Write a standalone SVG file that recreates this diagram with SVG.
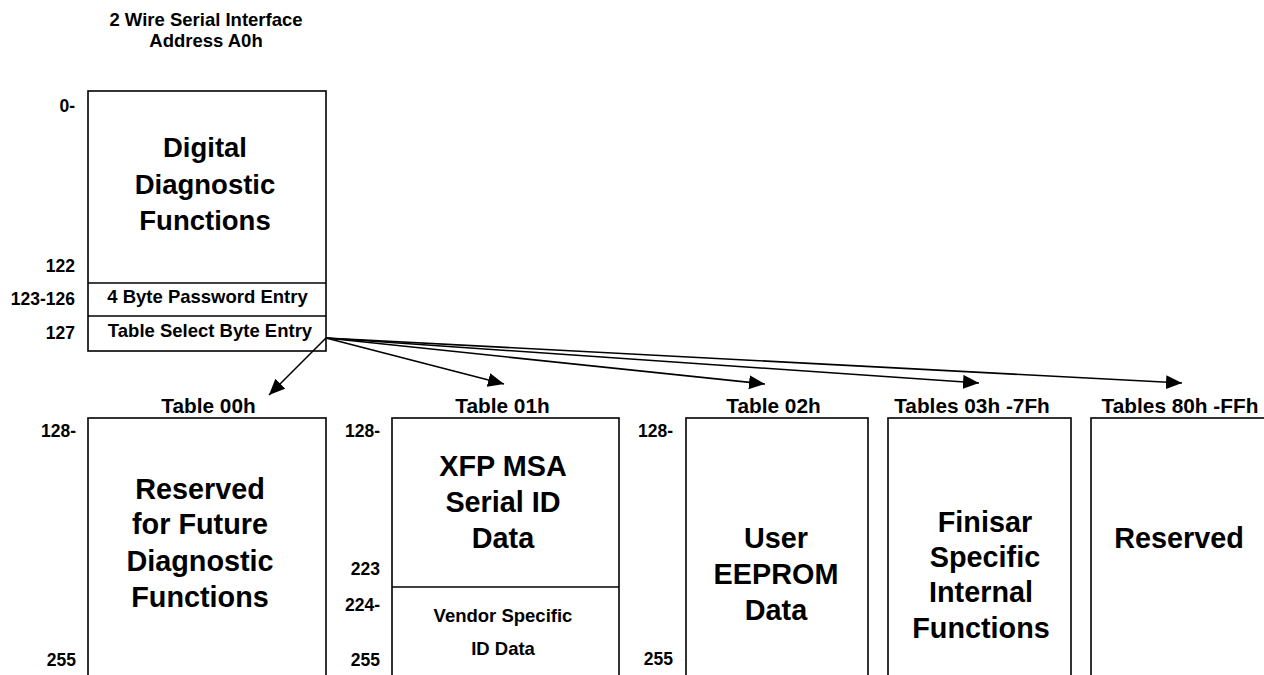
<svg xmlns="http://www.w3.org/2000/svg" width="1264" height="675" viewBox="0 0 1264 675">
<style>
text{font-family:"Liberation Sans",Arial,sans-serif;font-weight:bold;fill:#000}
.box{fill:#fff;stroke:#000;stroke-width:1.6}
.div{stroke:#000;stroke-width:1.6}
.t{font-size:18.5px;text-anchor:middle}
.n{font-size:17.5px;text-anchor:end}
.big{font-size:28.8px;text-anchor:middle}
.lbl{font-size:20.8px;text-anchor:middle}
.sm{font-size:18.5px;text-anchor:middle}
.arr{stroke:#000;stroke-width:1.6;fill:none;marker-end:url(#ah)}
</style>
<defs>
<marker id="ah" markerUnits="userSpaceOnUse" markerWidth="17" markerHeight="14" refX="16" refY="7" orient="auto">
<path d="M0,0 L16,7 L0,14 Z" fill="#000"/>
</marker>
</defs>
<rect width="1264" height="675" fill="#fff"/>
<g id="title">
<text class="t" x="206" y="26">2 Wire Serial Interface</text>
<text class="t" x="206" y="47">Address A0h</text>
</g>
<g id="a0-box">
<rect class="box" x="88" y="91" width="238" height="260"/>
<line class="div" x1="88" y1="283" x2="326" y2="283"/>
<line class="div" x1="88" y1="316" x2="326" y2="316"/>
<text class="big" x="205" y="157" style="font-size:27.5px">Digital</text>
<text class="big" x="205" y="194" style="font-size:27.5px">Diagnostic</text>
<text class="big" x="205" y="230" style="font-size:27.5px">Functions</text>
<text class="sm" x="207.5" y="303">4 Byte Password Entry</text>
<text class="sm" x="210" y="337">Table Select Byte Entry</text>
<text class="n" x="75" y="112">0-</text>
<text class="n" x="75" y="272">122</text>
<text class="n" x="75" y="305">123-126</text>
<text class="n" x="75" y="339">127</text>
</g>
<g id="connectors">
<line class="arr" x1="326" y1="338" x2="269" y2="395"/>
<line class="arr" x1="326" y1="338" x2="504" y2="384"/>
<line class="arr" x1="326" y1="338" x2="765" y2="384"/>
<line class="arr" x1="326" y1="338" x2="979" y2="383"/>
<line class="arr" x1="326" y1="338" x2="1182" y2="383"/>
</g>
<g id="table00">
<text class="lbl" x="208.5" y="413">Table 00h</text>
<rect class="box" x="88" y="418" width="238" height="300"/>
<text class="big" x="200" y="499">Reserved</text>
<text class="big" x="200" y="534">for Future</text>
<text class="big" x="200" y="571">Diagnostic</text>
<text class="big" x="200" y="607">Functions</text>
<text class="n" x="76" y="437">128-</text>
<text class="n" x="76" y="666">255</text>
</g>
<g id="table01">
<text class="lbl" x="502.5" y="413">Table 01h</text>
<rect class="box" x="392" y="418" width="227" height="300"/>
<line class="div" x1="392" y1="587" x2="619" y2="587"/>
<text class="big" x="503" y="476">XFP MSA</text>
<text class="big" x="503" y="512">Serial ID</text>
<text class="big" x="503" y="548">Data</text>
<text class="sm" x="503" y="622">Vendor Specific</text>
<text class="sm" x="503" y="655">ID Data</text>
<text class="n" x="380" y="437">128-</text>
<text class="n" x="380" y="575">223</text>
<text class="n" x="380" y="611">224-</text>
<text class="n" x="380" y="666">255</text>
</g>
<g id="table02">
<text class="lbl" x="773.5" y="413">Table 02h</text>
<rect class="box" x="686" y="418" width="182" height="300"/>
<text class="big" x="776" y="548">User</text>
<text class="big" x="776" y="584">EEPROM</text>
<text class="big" x="776" y="620">Data</text>
<text class="n" x="673" y="437">128-</text>
<text class="n" x="673" y="665">255</text>
</g>
<g id="table03">
<text class="lbl" x="972" y="413">Tables 03h -7Fh</text>
<rect class="box" x="888" y="418" width="183" height="300"/>
<text class="big" x="985" y="532">Finisar</text>
<text class="big" x="985" y="567">Specific</text>
<text class="big" x="981" y="602">Internal</text>
<text class="big" x="981" y="638">Functions</text>
</g>
<g id="table80">
<text class="lbl" x="1180" y="413">Tables 80h -FFh</text>
<rect class="box" x="1091" y="418" width="183" height="300"/>
<text class="big" x="1179" y="548">Reserved</text>
</g>
</svg>
